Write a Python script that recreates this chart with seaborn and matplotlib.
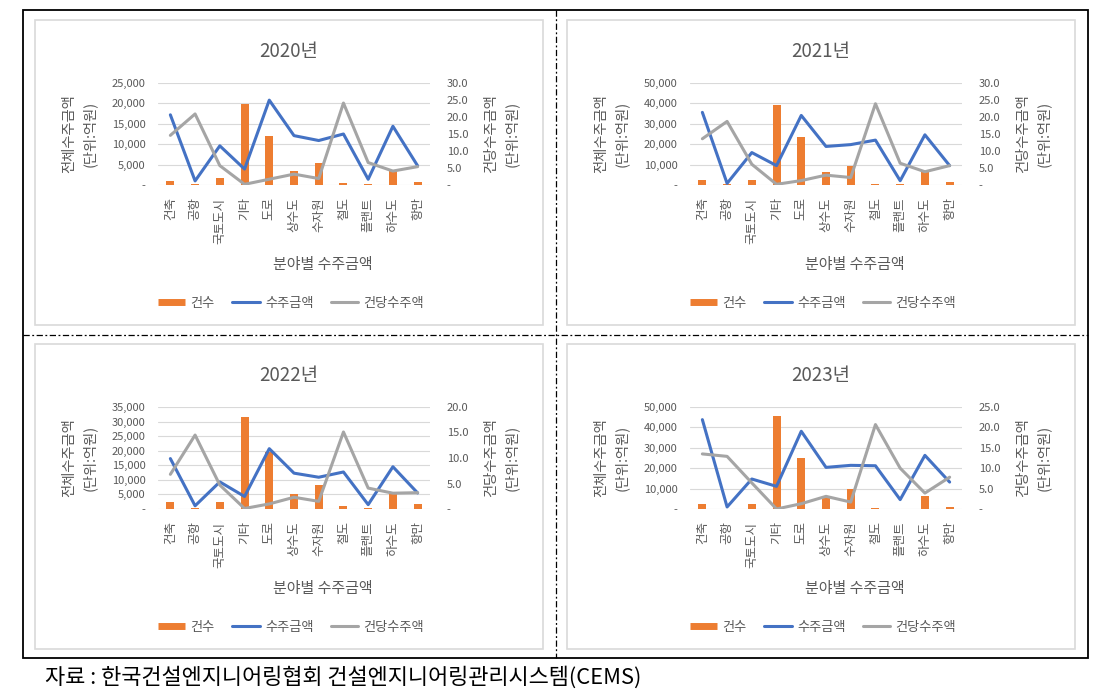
import numpy as np
import pandas as pd
import matplotlib.pyplot as plt
import seaborn as sns
from matplotlib.lines import Line2D
from matplotlib.patches import Rectangle
from matplotlib.ticker import FuncFormatter

sns.set_style("white")
plt.rcParams['font.family'] = ['Noto Sans CJK KR', 'DejaVu Sans']

categories = ["건축", "공항", "국토도시", "기타", "도로", "상수도", "수자원", "철도", "플랜트", "하수도", "항만"]

# 건수 (bars, left axis), 수주금액 (blue, left axis), 건당수주액 (gray, right axis)
count_2020 = [1000, 250, 1600, 19800, 12000, 3500, 5300, 400, 150, 3500, 650]
amount_2020 = [17200, 1000, 9600, 3900, 20800, 12100, 10900, 12500, 1400, 14400, 4700]
unit_2020 = [14.6, 20.9, 5.7, 0.2, 1.7, 3.2, 1.9, 24.1, 6.6, 4.1, 5.4]

count_2021 = [2500, 300, 2500, 39000, 23600, 6600, 9500, 300, 300, 6200, 1500]
amount_2021 = [35600, 800, 15900, 9500, 34100, 18900, 19800, 22000, 2100, 24600, 9500]
unit_2021 = [13.6, 18.7, 6.1, 0.2, 1.3, 2.9, 2.2, 23.9, 6.4, 3.9, 5.7]

count_2022 = [2300, 200, 2300, 31500, 19500, 5200, 8200, 900, 200, 5100, 1700]
amount_2022 = [17300, 1100, 9300, 4300, 20700, 12300, 10900, 12700, 1500, 14500, 5500]
unit_2022 = [6.8, 14.5, 4.7, 0.1, 1.0, 2.3, 1.5, 15.1, 4.1, 3.1, 3.2]

count_2023 = [2600, 150, 2300, 45800, 25000, 6200, 9800, 300, 150, 6500, 1000]
amount_2023 = [43800, 1000, 14700, 11100, 38100, 20400, 21400, 21200, 4600, 26300, 13200]
unit_2023 = [13.5, 12.9, 6.4, 0.0, 1.3, 3.1, 1.7, 20.7, 10.0, 3.9, 7.8]

years = ["2020년", "2021년", "2022년", "2023년"]
left_max = [25000, 50000, 35000, 50000]
left_step = [5000, 10000, 5000, 10000]
right_max = [30, 30, 20, 25]

ORANGE = "#ED7D31"
BLUE = "#4472C4"
GRAY = "#A5A5A5"
TXT = "#595959"

W, H = 1114, 697
fig = plt.figure(figsize=(W / 100, H / 100), dpi=100)


def fx(x):
    return x / W


def fy(y):
    return 1 - y / H


panels = [
    (count_2020, amount_2020, unit_2020, 0, 0),
    (count_2021, amount_2021, unit_2021, 532, 0),
    (count_2022, amount_2022, unit_2022, 0, 324),
    (count_2023, amount_2023, unit_2023, 532, 324),
]

left_fmt = FuncFormatter(lambda v, p: "-" if v == 0 else f"{v:,.0f}")
right_fmt = FuncFormatter(lambda v, p: "-" if v == 0 else f"{v:.1f}")

for i, (cnt, amt, unit, dx, dy) in enumerate(panels):
    # panel frame
    fig.add_artist(Rectangle((fx(35 + dx), fy(325 + dy)), 508 / W, 305 / H,
                             transform=fig.transFigure, fill=False,
                             edgecolor="#d9d9d9", lw=1.2))

    df = pd.DataFrame({"pos": np.arange(len(categories)), "count": cnt,
                       "amount": amt, "unit": unit})

    ax = fig.add_axes([fx(158 + dx), fy(185 + dy), 272 / W, 102 / H])
    sns.barplot(data=df, x="pos", y="count", native_scale=True, width=0.32,
                color=ORANGE, saturation=1, errorbar=None, linewidth=0, ax=ax)
    sns.lineplot(data=df, x="pos", y="amount", color=BLUE, linewidth=2.2, ax=ax)

    ax2 = ax.twinx()
    sns.lineplot(data=df, x="pos", y="unit", color=GRAY, linewidth=2.2, ax=ax2)

    ax.set_xlim(-0.5, len(categories) - 0.5)
    ax.set_ylim(0, left_max[i])
    ax2.set_ylim(0, right_max[i])
    ax.set_yticks(np.arange(0, left_max[i] + 1, left_step[i]))
    ax2.set_yticks(np.arange(0, right_max[i] + 0.1, 5))
    ax.yaxis.set_major_formatter(left_fmt)
    ax2.yaxis.set_major_formatter(right_fmt)
    ax.set_xticks(np.arange(len(categories)), categories,
                  rotation=90, fontsize=9, color=TXT)

    ax.grid(axis="y", color="#d9d9d9", lw=0.8)
    ax.grid(axis="x", visible=False)
    ax2.grid(False)
    for a in (ax, ax2):
        a.set_xlabel("")
        a.set_ylabel("")
        for s in a.spines.values():
            s.set_visible(False)
    ax.tick_params(axis="y", length=0, labelsize=8, colors=TXT, pad=9)
    ax.tick_params(axis="x", length=0, pad=9)
    ax2.tick_params(axis="y", length=0, labelsize=8, colors=TXT, pad=12)

    ax.text(-0.29, 0.5, "전체수주금액\n(단위:억원)", transform=ax.transAxes,
            rotation=90, ha="center", va="center", fontsize=10.3,
            linespacing=1.5, color=TXT)
    ax.text(1.263, 0.5, "건당수주금액\n(단위:억원)", transform=ax.transAxes,
            rotation=90, ha="center", va="center", fontsize=10.3,
            linespacing=1.5, color=TXT)

    fig.text(fx(289 + dx), fy(52 + dy), years[i], ha="center", va="center",
             fontsize=13.5, color=TXT)
    fig.text(fx(323 + dx), fy(265 + dy), "분야별 수주금액", ha="center",
             va="center", fontsize=10.8, color=TXT)

    handles = [Line2D([], [], color=ORANGE, lw=5, solid_capstyle="butt"),
               Line2D([], [], color=BLUE, lw=2.2),
               Line2D([], [], color=GRAY, lw=2.2)]
    fig.legend(handles, ["건수", "수주금액", "건당수주액"], loc="center",
               bbox_to_anchor=(fx(291 + dx), fy(303 + dy)), ncol=3,
               frameon=False, fontsize=9.5, handlelength=2.1,
               handletextpad=0.4, columnspacing=1.3, labelcolor=TXT)

# table border and dividers
fig.add_artist(Rectangle((fx(23), fy(658)), (1088 - 23) / W, (658 - 10) / H,
                         transform=fig.transFigure, fill=False,
                         edgecolor="black", lw=1.3))
dashdot = (0, (5, 2, 1.5, 2))
fig.add_artist(Line2D([fx(556), fx(556)], [fy(10), fy(658)], color="black",
                      lw=0.9, linestyle=dashdot, transform=fig.transFigure))
fig.add_artist(Line2D([fx(23), fx(1088)], [fy(335), fy(335)], color="black",
                      lw=0.9, linestyle=dashdot, transform=fig.transFigure))

fig.text(fx(45), fy(678), "자료 : 한국건설엔지니어링협회 건설엔지니어링관리시스템(CEMS)",
         ha="left", va="center", fontsize=15.8, color="black")

fig.savefig("out.png", dpi=100)
